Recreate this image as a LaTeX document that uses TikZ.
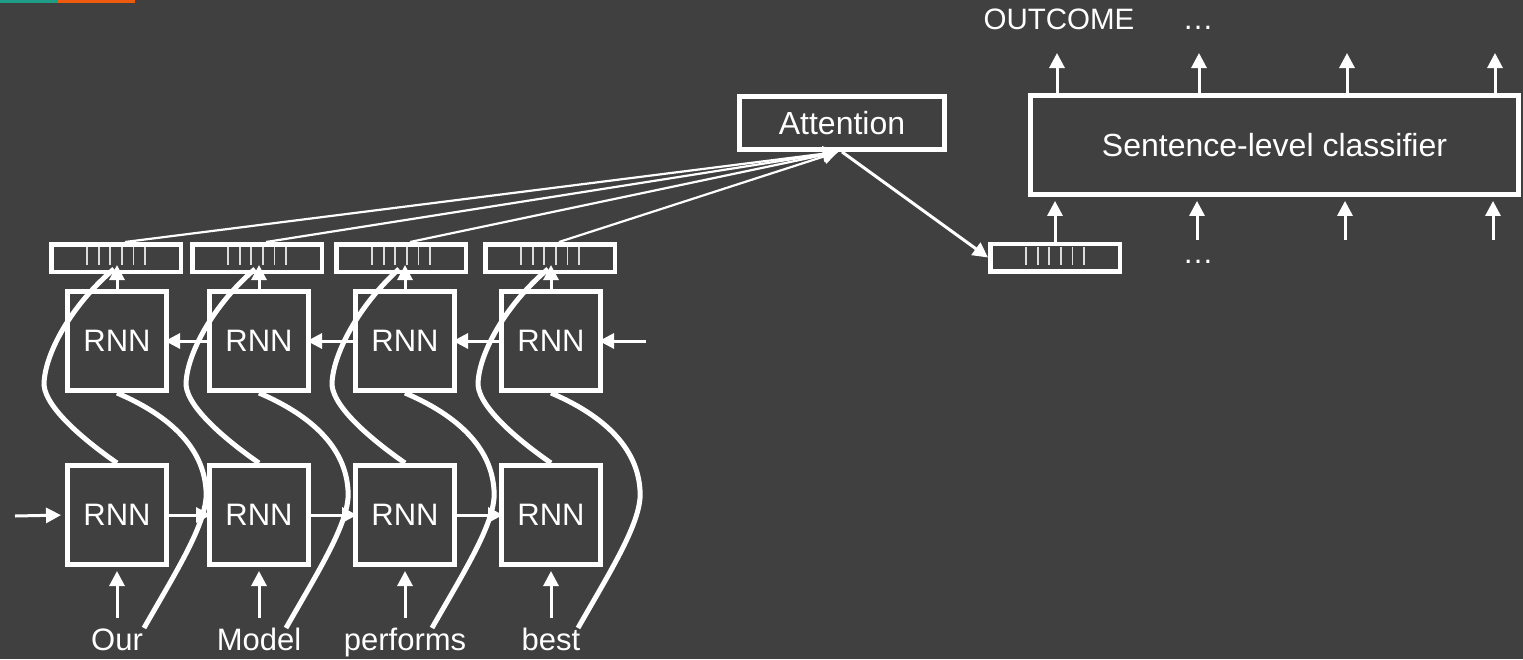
\documentclass[tikz,border=0pt]{standalone}
\usepackage{fontspec}
\setmainfont{Liberation Sans}
\usetikzlibrary{arrows.meta,calc}
\definecolor{bg}{HTML}{404040}
\definecolor{teal1}{HTML}{1E9C86}
\definecolor{orange1}{HTML}{EE5A0E}
\definecolor{tickc}{HTML}{DCDCDC}
\begin{document}
\begin{tikzpicture}[x=1pt,y=-1pt,
  every node/.style={text=white,font=\fontsize{31}{37}\selectfont},
  rnn/.style={draw=white,line width=5pt,minimum width=99pt,minimum height=99pt,inner sep=0pt},
  vec/.style={draw=white,line width=4.5pt,minimum width=129.5pt,minimum height=27.5pt,inner sep=0pt},
  bigbox/.style={draw=white,line width=4.8pt,inner sep=0pt,font=\fontsize{32}{38}\selectfont},
  arr/.style={draw=white,line width=3pt,-{Triangle[length=15pt,width=15pt]}},
  fan/.style={draw=white,line width=2.2pt,-{Triangle[length=15pt,width=15pt]}},
  curve/.style={draw=white,line width=5pt},
  tickline/.style={draw=tickc,line width=1.8pt},
  word/.style={anchor=base,inner sep=0pt}]
\fill[bg] (0,0) rectangle (1523,659);
\useasboundingbox (0,0) rectangle (1523,659);
\fill[teal1] (0,0) rectangle (57.7,3);
\fill[orange1] (57.7,0) rectangle (135,3);

% columns
\foreach \i/\c/\v/\w in {1/117/116/Our,2/259/257/Model,3/405/401/performs,4/551/550/best}{
  \node[rnn] (u\i) at (\c,341) {RNN};
  \node[rnn] (l\i) at (\c,515) {RNN};
  \node[vec] (v\i) at (\v,258) {};
  \node[word] (w\i) at (\c,650) {\w};
}
\foreach \i in {1,2,3,4}{
  \foreach \d in {-29,-17.4,-5.8,5.8,17.4,29}
    \draw[tickline] ($(v\i.center)+(\d,-11)$) -- ($(v\i.center)+(\d,7)$);
}

% attention and output vector
\node[bigbox,minimum width=205pt,minimum height=53pt] (att) at (842,123) {Attention};
\node[vec] (ov) at (1055,257.5) {};
\foreach \d in {-29,-17.4,-5.8,5.8,17.4,29}
  \draw[tickline] ($(ov.center)+(\d,-11)$) -- ($(ov.center)+(\d,7)$);

% classifier
\node[bigbox,minimum width=488pt,minimum height=99pt] (cls) at (1274.5,145) {Sentence-level classifier};
\node[word,font=\fontsize{29.5}{34}\selectfont] (oc) at (1059,29) {OUTCOME};
\node[word] (d1) at (1198,29) {…};
\node[word] (d2) at (1198,263) {…};

% curves
\foreach \i/\c/\v in {1/117/116,2/259/257,3/405/401,4/551/550}{
  \draw[curve] ($(w\i.base)+(27,-22)$) .. controls ({\c+60},570) and ({\c+92},520) .. ({\c+89},490)
     .. controls ({\c+86},440) and ({\c+40},410) .. (u\i.south);
  \draw[curve] (l\i.north) .. controls ({\c-26},445) and ({\c-71},410) .. ({\c-73},385)
     .. controls ({\c-73},355) and ({\c-46},305) .. ($(v\i.south)+(-2,-5)$);
}

% vertical arrows
\foreach \i in {1,2,3,4}{
  \draw[arr,shorten >=4pt] ($(w\i.base)+(0,-32)$) -- (l\i.south);
  \draw[arr,shorten >=-9pt] (u\i.north) -- (u\i.north |- v\i.south);
  \draw[fan] ($(v\i.north)+(9,0)$) -- ($(att.south)+(-4,0)$);
}

% horizontal arrows
\coordinate (lin) at (15,516);
\coordinate (uin) at (646,341);
\draw[arr,shorten >=4pt] (lin) -- (l1.west);
\draw[arr,shorten >=-4pt] (l1.east) -- (l2.west);
\draw[arr,shorten >=-4pt] (l2.east) -- (l3.west);
\draw[arr,shorten >=-4pt] (l3.east) -- (l4.west);
\draw[arr,shorten >=-4pt] (uin) -- (u4.east);
\draw[arr,shorten >=-4pt] (u4.west) -- (u3.east);
\draw[arr,shorten >=-4pt] (u3.west) -- (u2.east);
\draw[arr,shorten >=-4pt] (u2.west) -- (u1.east);

% attention to output vector
\draw[arr] (att.south) -- (ov.west);
\draw[arr,shorten >=4pt] (ov.north) -- (ov.north |- cls.south);

% classifier arrows
\coordinate (t1) at (1057,53);
\coordinate (t2) at (1199,53);
\coordinate (t3) at (1347,53);
\coordinate (t4) at (1495,53);
\coordinate (b2) at (1197,240);
\coordinate (b3) at (1345,240);
\coordinate (b4) at (1493,240);
\foreach \t in {t1,t2,t3,t4}
  \draw[arr] (\t |- cls.north) -- (\t);
\foreach \b in {b2,b3,b4}
  \draw[arr,shorten >=4pt] (\b) -- (\b |- cls.south);
\end{tikzpicture}
\end{document}
